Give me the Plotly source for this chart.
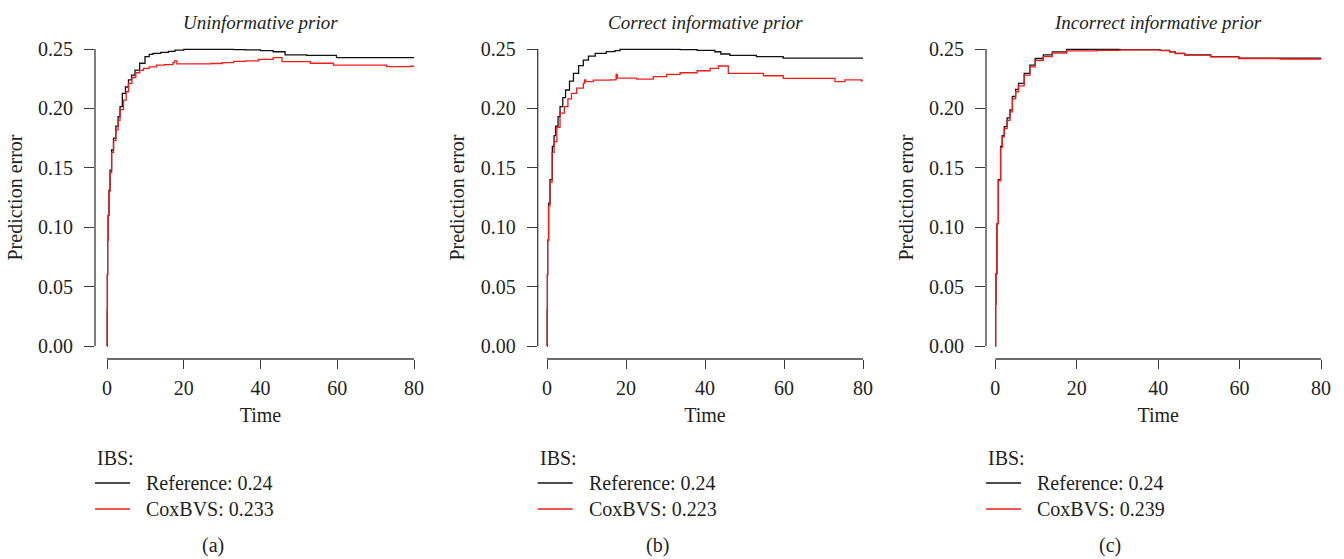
import plotly.graph_objects as go

W, H = 1344, 559
FONT = "Liberation Serif"
TEXT_COLOR = "#231f20"
AXIS_COLOR = "#3a3a3a"
REF_COLOR = "#111111"
COX_COLOR = "#f01c1c"

panel_titles = ["Uninformative prior", "Correct informative prior", "Incorrect informative prior"]
panel_tags = ["(a)", "(b)", "(c)"]
ibs_reference = [0.24, 0.24, 0.24]
ibs_coxbvs = [0.233, 0.223, 0.239]

x_ticks = [0, 20, 40, 60, 80]
y_ticks = [0.00, 0.05, 0.10, 0.15, 0.20, 0.25]

# (a) uninformative prior
time_ref_a = [0, 0.05, 0.1, 0.17, 0.3, 0.52, 0.8, 1.2, 1.7, 2.3, 2.9, 3.4, 4.0, 4.8, 5.6, 6.4, 7.3, 8.5,
              9.9, 11.0, 12.0, 14.0, 16.0, 17.7, 20.0, 33.0, 36.0, 40.0, 43.3, 46.4, 52.0, 59.8, 80.0]
err_ref_a = [0, 0.030, 0.060, 0.089, 0.110, 0.131, 0.148, 0.165, 0.175, 0.185, 0.193, 0.2015, 0.2127, 0.218,
             0.224, 0.228, 0.2323, 0.238, 0.2435, 0.2455, 0.2464, 0.2472, 0.248, 0.249, 0.2497, 0.2495,
             0.2492, 0.2487, 0.2477, 0.2450, 0.2447, 0.2427, 0.2427]
time_cox_a = [0, 0.05, 0.1, 0.17, 0.3, 0.52, 0.8, 1.2, 1.7, 2.3, 2.9, 3.4, 4.3, 5.0, 5.6, 6.5, 7.5, 8.5,
              9.5, 11.0, 12.9, 15.0, 17.2, 17.6, 18.2, 27.0, 30.0, 33.0, 36.0, 39.5, 43.3, 45.6, 53.0,
              59.0, 72.9, 79.0, 80.0]
err_cox_a = [0, 0.030, 0.060, 0.089, 0.110, 0.130, 0.146, 0.163, 0.173, 0.182, 0.190, 0.199, 0.207, 0.214,
             0.221, 0.226, 0.230, 0.232, 0.2337, 0.235, 0.2365, 0.2368, 0.2385, 0.2400, 0.2375, 0.2378,
             0.2385, 0.2395, 0.2400, 0.2413, 0.2427, 0.2393, 0.2380, 0.2365, 0.2351, 0.2355, 0.2355]

# (b) correct informative prior
time_ref_b = [0, 0.05, 0.1, 0.17, 0.4, 0.76, 1.35, 1.8, 2.2, 2.8, 3.3, 4.0, 4.7, 5.7, 6.7, 8.0, 9.2, 10.5,
              12.2, 15.0, 17.2, 18.5, 33.7, 38.0, 42.5, 44.0, 46.3, 53.0, 59.8, 80.0]
err_ref_b = [0, 0.030, 0.060, 0.089, 0.120, 0.140, 0.168, 0.177, 0.185, 0.193, 0.2015, 0.209, 0.2155, 0.223,
             0.2295, 0.236, 0.2407, 0.244, 0.2464, 0.2478, 0.2486, 0.2497, 0.2494, 0.2488, 0.2477, 0.2458,
             0.2447, 0.2435, 0.2424, 0.2424]
time_cox_b = [0, 0.05, 0.1, 0.17, 0.4, 0.76, 1.3, 1.8, 2.5, 3.3, 4.4, 5.3, 6.2, 7.5, 9.2, 9.5, 9.8, 11.7,
              16.0, 17.5, 17.8, 22.7, 26.9, 30.3, 33.7, 38.0, 41.3, 43.4, 45.9, 54.8, 59.8, 72.9, 75.4,
              79.6, 80.0]
err_cox_b = [0, 0.030, 0.060, 0.089, 0.118, 0.138, 0.163, 0.172, 0.184, 0.196, 0.2015, 0.208, 0.2127, 0.217,
             0.221, 0.224, 0.2225, 0.2238, 0.2240, 0.2287, 0.2255, 0.2247, 0.2267, 0.2287, 0.2300, 0.2317,
             0.2337, 0.2357, 0.2295, 0.2275, 0.2253, 0.2225, 0.2240, 0.2232, 0.2232]

# (c) incorrect informative prior
time_ref_c = [0, 0.08, 0.17, 0.4, 0.74, 1.3, 1.7, 2.2, 2.9, 3.6, 4.2, 5.0, 5.7, 7.1, 8.5, 9.8, 11.8, 14.0,
              17.5, 30.6, 40.5, 42.8, 44.2, 46.5, 52.9, 59.8, 80.0]
err_ref_c = [0, 0.035, 0.061, 0.103, 0.140, 0.168, 0.177, 0.1846, 0.192, 0.1987, 0.210, 0.216, 0.221, 0.2295,
             0.2365, 0.242, 0.245, 0.2475, 0.2497, 0.2494, 0.2488, 0.2477, 0.2464, 0.2450, 0.2436, 0.2422,
             0.2422]
time_cox_c = [0, 0.08, 0.17, 0.4, 0.74, 1.3, 1.7, 2.2, 2.9, 3.6, 4.2, 5.0, 5.7, 7.1, 8.5, 9.8, 11.8, 14.0,
              17.5, 25.0, 30.6, 40.5, 42.8, 44.2, 46.5, 52.9, 59.8, 70.0, 80.0]
err_cox_c = [0, 0.035, 0.061, 0.103, 0.139, 0.167, 0.176, 0.183, 0.190, 0.197, 0.208, 0.214, 0.219, 0.228,
             0.235, 0.2405, 0.2435, 0.2465, 0.2485, 0.2488, 0.2492, 0.2487, 0.2477, 0.2462, 0.2448, 0.2434,
             0.2420, 0.2416, 0.2414]

series = [
    (time_ref_a, err_ref_a, time_cox_a, err_cox_a),
    (time_ref_b, err_ref_b, time_cox_b, err_cox_b),
    (time_ref_c, err_ref_c, time_cox_c, err_cox_c),
]

# Pixel frame of each panel: y-axis line, x=0 and x=80 positions
panel_frames = [(95.0, 107.0, 414.0), (537.7, 547.0, 863.0), (986.0, 995.3, 1321.0)]
PLOT_TOP, PLOT_BOTTOM = 36.0, 359.0
Y_ZERO, Y_MAX = 346.0, 49.0
X_MAX_DATA, Y_MAX_DATA = 80.0, 0.25


def px_x(p):
    return p / W


def px_y(p):
    return 1 - p / H


fig = go.Figure()
layout_axes = {}
shapes = []
annotations = []

y_scale = (Y_ZERO - Y_MAX) / Y_MAX_DATA
y_range = [-(PLOT_BOTTOM - Y_ZERO) / y_scale, Y_MAX_DATA + (Y_MAX - PLOT_TOP) / y_scale]
y_dom = [px_y(PLOT_BOTTOM), px_y(PLOT_TOP)]

for i, (left, x0, x80) in enumerate(panel_frames):
    k = "" if i == 0 else str(i + 1)
    pad = x0 - left
    x_scale = (x80 - x0) / X_MAX_DATA
    x_range = [-pad / x_scale, X_MAX_DATA + pad / x_scale]
    x_dom = [px_x(left), px_x(x80 + pad)]

    layout_axes["xaxis" + k] = dict(
        domain=x_dom, range=x_range, anchor="y" + k, showgrid=False, zeroline=False, showline=False,
        tickmode="array", tickvals=x_ticks, ticktext=[str(v) for v in x_ticks],
        ticks="outside", ticklen=9, tickwidth=1.3, tickcolor=AXIS_COLOR, ticklabelstandoff=2,
        tickfont=dict(family=FONT, size=20, color=TEXT_COLOR),
        title=dict(text="Time", font=dict(family=FONT, size=20, color=TEXT_COLOR), standoff=9),
    )
    layout_axes["yaxis" + k] = dict(
        domain=y_dom, range=y_range, anchor="x" + k, showgrid=False, zeroline=False, showline=False,
        tickmode="array", tickvals=y_ticks, ticktext=[f"{v:.2f}" for v in y_ticks],
        ticks="outside", ticklen=10, tickwidth=1.3, tickcolor=AXIS_COLOR, ticklabelstandoff=7,
        tickfont=dict(family=FONT, size=20, color=TEXT_COLOR),
        title=dict(text="Prediction error", font=dict(family=FONT, size=20, color=TEXT_COLOR), standoff=10),
    )

    # data -> paper helpers for this panel
    def dx(v, xr=x_range, xd=x_dom):
        return xd[0] + (v - xr[0]) / (xr[1] - xr[0]) * (xd[1] - xd[0])

    def dy(v):
        return y_dom[0] + (v - y_range[0]) / (y_range[1] - y_range[0]) * (y_dom[1] - y_dom[0])

    # R-style axis lines spanning first to last tick
    shapes.append(dict(type="line", xref="paper", yref="paper",
                       x0=dx(x_ticks[0]), x1=dx(x_ticks[-1]), y0=y_dom[0], y1=y_dom[0],
                       line=dict(color=AXIS_COLOR, width=1.3)))
    shapes.append(dict(type="line", xref="paper", yref="paper",
                       x0=x_dom[0], x1=x_dom[0], y0=dy(y_ticks[0]), y1=dy(y_ticks[-1]),
                       line=dict(color=AXIS_COLOR, width=1.3)))

    t_ref, e_ref, t_cox, e_cox = series[i]
    fig.add_trace(go.Scatter(x=t_ref, y=e_ref, mode="lines", line=dict(color=REF_COLOR, width=1.3, shape="hv"),
                             xaxis="x" + k, yaxis="y" + k, showlegend=False))
    fig.add_trace(go.Scatter(x=t_cox, y=e_cox, mode="lines", line=dict(color=COX_COLOR, width=1.3, shape="hv"),
                             xaxis="x" + k, yaxis="y" + k, showlegend=False))

    # panel title
    annotations.append(dict(text=f"<i>{panel_titles[i]}</i>", xref="paper", yref="paper",
                            x=dx(X_MAX_DATA / 2), y=px_y(22), xanchor="center", yanchor="middle",
                            showarrow=False, font=dict(family=FONT, size=19, color=TEXT_COLOR)))

    # IBS legend block
    annotations.append(dict(text="IBS:", xref="paper", yref="paper", x=px_x(left), y=px_y(458),
                            xanchor="left", yanchor="middle", showarrow=False,
                            font=dict(family=FONT, size=20, color=TEXT_COLOR)))
    for name, val, color, row_y in (("Reference", ibs_reference[i], REF_COLOR, 483),
                                    ("CoxBVS", ibs_coxbvs[i], COX_COLOR, 509)):
        shapes.append(dict(type="line", xref="paper", yref="paper",
                           x0=px_x(left), x1=px_x(left + 35), y0=px_y(row_y), y1=px_y(row_y),
                           line=dict(color=color, width=1.3)))
        annotations.append(dict(text=f"{name}: {val:g}", xref="paper", yref="paper",
                                x=px_x(left + 49), y=px_y(row_y), xanchor="left", yanchor="middle",
                                showarrow=False, font=dict(family=FONT, size=20, color=TEXT_COLOR)))

    # panel tag
    annotations.append(dict(text=panel_tags[i], xref="paper", yref="paper",
                            x=dx(X_MAX_DATA / 2) - 48 / W, y=px_y(545), xanchor="center", yanchor="middle",
                            showarrow=False, font=dict(family=FONT, size=20, color=TEXT_COLOR)))

fig.update_layout(
    width=W, height=H, margin=dict(l=0, r=0, t=0, b=0),
    paper_bgcolor="white", plot_bgcolor="white",
    shapes=shapes, annotations=annotations, **layout_axes,
)

fig.write_html("out.html")
